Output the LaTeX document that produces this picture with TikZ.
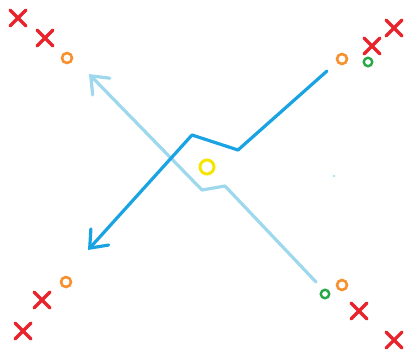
\documentclass[tikz,border=0pt]{standalone}
\usetikzlibrary{shapes.misc,arrows.meta}
\definecolor{xred}{HTML}{E8232B}
\definecolor{oorange}{HTML}{F7902E}
\definecolor{ggreen}{HTML}{27A844}
\definecolor{yyellow}{HTML}{F5E600}
\definecolor{dblue}{HTML}{1AA3E3}
\definecolor{lblue}{HTML}{9ED8EC}
\tikzset{
  xmark/.style={cross out, draw=xred, line width=3.2pt, minimum size=13pt, inner sep=0pt, line cap=round},
  omark/.style={circle, draw=oorange, line width=2.6pt, minimum size=10pt, inner sep=0pt},
  gmark/.style={circle, draw=ggreen, line width=2.4pt, minimum size=8.5pt, inner sep=0pt},
  ymark/.style={circle, draw=yyellow, line width=3pt, minimum size=14pt, inner sep=0pt},
  darrow/.style={draw=dblue, line width=3.2pt, line cap=round, line join=round, -{Straight Barb[length=15pt,width=24pt,line cap=round]}},
  larrow/.style={draw=lblue, line width=3.2pt, line cap=round, line join=round, -{Straight Barb[length=15pt,width=24pt,line cap=round]}}
}
\begin{document}
\begin{tikzpicture}[x=1pt,y=-1pt]
\useasboundingbox (0,0) rectangle (404,354);
% top left
\node[xmark] (x1) at (18,18) {};
\node[xmark] (x2) at (45,38) {};
\node[omark] (o1) at (67,58) {};
% top right
\node[xmark] (x3) at (394,28) {};
\node[xmark] (x4) at (372,46) {};
\node[omark] (o2) at (342,59) {};
\node[gmark] (g1) at (368,62) {};
% bottom left
\node[omark] (o3) at (66,282) {};
\node[xmark] (x5) at (42,300) {};
\node[xmark] (x6) at (23,331) {};
% bottom right
\node[omark] (o4) at (342,285) {};
\node[gmark] (g2) at (325,294) {};
\node[xmark] (x7) at (359,311) {};
\node[xmark] (x8) at (394,340) {};
% center
\node[ymark] (y1) at (207,167) {};
\fill[lblue!80] (334,176) circle (1.3pt);
% paths
\coordinate (ds) at (327,71);
\coordinate (d1) at (238,150);
\coordinate (d2) at (192,135);
\coordinate (de) at (88,250);
\coordinate (ls) at (316,282);
\coordinate (l1) at (225,186);
\coordinate (l2) at (202,190);
\coordinate (le) at (89,74);
\draw[larrow] (ls) -- (l1) -- (l2) -- (le);
\draw[darrow] (ds) -- (d1) -- (d2) -- (de);
\end{tikzpicture}
\end{document}
